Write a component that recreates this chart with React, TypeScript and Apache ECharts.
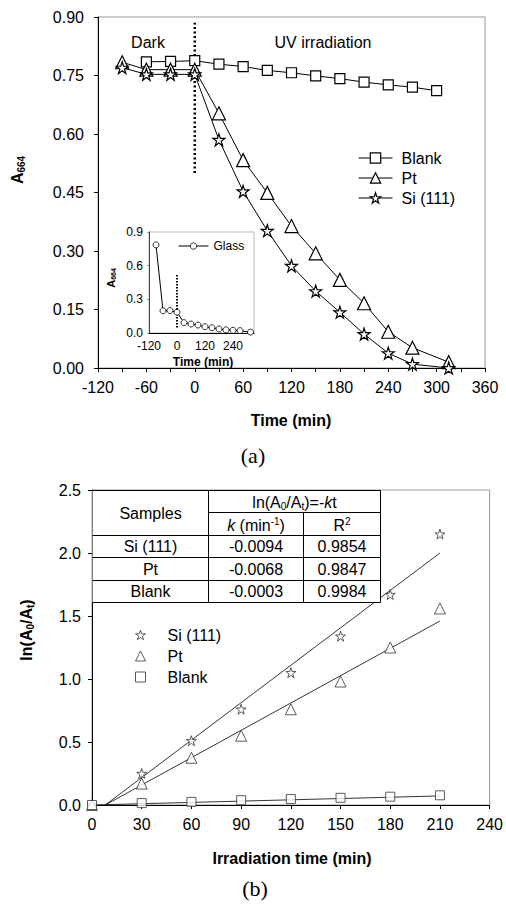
import React, { useEffect, useRef } from "react";
import * as echarts from "echarts";

// (a) absorbance at 664 nm versus time: dark adsorption, then UV irradiation
const blankTime = [-60, -30, 0, 30, 60, 90, 120, 150, 180, 210, 240, 270, 300];
const blankA = [0.785, 0.786, 0.788, 0.779, 0.773, 0.763, 0.757, 0.749, 0.742, 0.733, 0.726, 0.72, 0.711];
const ptTime = [-90, -60, -30, 0, 30, 60, 90, 120, 150, 180, 210, 240, 270, 315];
const ptA = [0.784, 0.765, 0.765, 0.765, 0.653, 0.533, 0.449, 0.364, 0.294, 0.226, 0.166, 0.093, 0.052, 0.015];
const siTime = [-90, -60, -30, 0, 30, 60, 90, 120, 150, 180, 210, 240, 270, 315];
const siA = [0.77, 0.753, 0.753, 0.753, 0.585, 0.453, 0.352, 0.262, 0.197, 0.143, 0.087, 0.038, 0.01, 0.0];

// inset: bare glass
const glassTime = [-90, -60, -30, 0, 30, 60, 90, 120, 150, 180, 210, 240, 270, 315];
const glassA = [0.785, 0.198, 0.2, 0.185, 0.092, 0.08, 0.071, 0.056, 0.047, 0.036, 0.028, 0.024, 0.021, 0.008];

// start of irradiation (dotted separator), in min, and its vertical span
const uvStart = 0;
const separatorSpan = [0.5, 0.885];
const insetSeparatorSpan = [0.05, 0.52];

// (b) first-order kinetics
const irrTime = [0, 30, 60, 90, 120, 150, 180, 210];
const siLn = [0, 0.25, 0.51, 0.76, 1.05, 1.34, 1.67, 2.15];
const ptLn = [0, 0.17, 0.375, 0.55, 0.76, 0.98, 1.25, 1.56];
const blankLn = [0, 0.015, 0.025, 0.038, 0.047, 0.057, 0.066, 0.077];

// fitted straight lines: [t, ln(A0/At)] end points
const siFit = [[8, 0], [210, 2.0]];
const ptFit = [[8, 0], [210, 1.46]];
const blankFit = [[0, 0], [210, 0.072]];

// kinetics table
const tableSamples = ["Si (111)", "Pt", "Blank"];
const tableK = ["-0.0094", "-0.0068", "-0.0003"];
const tableR2 = ["0.9854", "0.9847", "0.9984"];

const FONT = "Liberation Sans, Arial, sans-serif";
const SERIF = "Liberation Serif, Times New Roman, serif";
const STAR =
  "path://M50,0 L61.2,34.5 L97.6,34.5 L68.2,55.9 L79.4,90.5 L50,69.1 L20.6,90.5 L31.8,55.9 L2.4,34.5 L38.8,34.5 Z";

const zip = (xs: number[], ys: number[]) => xs.map((x, i) => [x, ys[i]]);

function text(x: number, y: number, t: string, extra: any = {}) {
  return {
    type: "text",
    x,
    y,
    silent: true,
    z: 50,
    style: {
      text: t,
      fill: "#000",
      font: `16px ${FONT}`,
      align: "center",
      verticalAlign: "middle",
      ...extra,
    },
  };
}

function hline(x1: number, x2: number, y: number) {
  return { type: "line", silent: true, z: 49, shape: { x1, y1: y, x2, y2: y }, style: { stroke: "#000", lineWidth: 1 } };
}
function vline(x: number, y1: number, y2: number) {
  return { type: "line", silent: true, z: 49, shape: { x1: x, y1, x2: x, y2 }, style: { stroke: "#000", lineWidth: 1 } };
}

function buildTable() {
  const L = 92.5, C1 = 208.5, C2 = 303.5, R = 380.5;
  const rows = [490.5, 512.5, 535.5, 557.5, 580.5, 602.5];
  const els: any[] = [
    { type: "rect", silent: true, z: 48, shape: { x: L, y: rows[0], width: R - L, height: rows[5] - rows[0] }, style: { fill: "#fff" } },
    hline(L, R, rows[0]),
    hline(C1, R, rows[1]),
    hline(L, R, rows[2]),
    hline(L, R, rows[3]),
    hline(L, R, rows[4]),
    hline(L, R, rows[5]),
    vline(C1, rows[0], rows[5]),
    vline(C2, rows[1], rows[5]),
    vline(R, rows[0], rows[5]),
  ];
  const cx1 = (L + C1) / 2, cx2 = (C1 + C2) / 2, cx3 = (C2 + R) / 2;
  els.push(text(cx1, (rows[0] + rows[2]) / 2, "Samples"));
  els.push(
    text((C1 + R) / 2, (rows[0] + rows[1]) / 2 + 1, "{n|ln(A}{s|0}{n|/A}{s|t}{n|)=-}{i|k}{n|t}", {
      rich: {
        n: { fontSize: 16, fontFamily: FONT, lineHeight: 18, verticalAlign: "middle" },
        i: { fontSize: 16, fontFamily: FONT, fontStyle: "italic", lineHeight: 18 },
        s: { fontSize: 10, fontFamily: FONT, lineHeight: 10, verticalAlign: "bottom" },
      },
    })
  );
  els.push(
    text(cx2, (rows[1] + rows[2]) / 2 + 1, "{i|k}{n| (min}{p|-1}{n|)}", {
      rich: {
        n: { fontSize: 16, fontFamily: FONT, lineHeight: 18 },
        i: { fontSize: 16, fontFamily: FONT, fontStyle: "italic", lineHeight: 18 },
        p: { fontSize: 10, fontFamily: FONT, lineHeight: 10, verticalAlign: "top" },
      },
    })
  );
  els.push(
    text(cx3, (rows[1] + rows[2]) / 2 + 1, "{n|R}{p|2}", {
      rich: {
        n: { fontSize: 16, fontFamily: FONT, lineHeight: 18 },
        p: { fontSize: 10, fontFamily: FONT, lineHeight: 10, verticalAlign: "top" },
      },
    })
  );
  tableSamples.forEach((s, i) => {
    const cy = (rows[i + 2] + rows[i + 3]) / 2;
    els.push(text(cx1, cy, s));
    els.push(text(cx2, cy, tableK[i]));
    els.push(text(cx3, cy, tableR2[i]));
  });
  return els;
}

const axisLine = { show: true, onZero: false, lineStyle: { color: "#000", width: 1 } };

export default function App() {
  const ref = useRef<HTMLDivElement>(null);

  useEffect(() => {
    if (!ref.current) return;
    const chart = echarts.init(ref.current, null, { renderer: "svg" });

    const markerStyle = { color: "#fff", borderColor: "#000", borderWidth: 1.2 };
    const markerStyleB = { color: "#fff", borderColor: "#333", borderWidth: 1 };
    const lineBlack = { color: "#000", width: 1 };

    const option: any = {
      animation: false,
      backgroundColor: "#fff",
      textStyle: { fontFamily: FONT },
      grid: [
        { left: 98, top: 17, width: 387, height: 351, show: true, borderColor: "#999", borderWidth: 1 },
        { left: 149, top: 232, width: 105, height: 101, show: true, borderColor: "#bbb", borderWidth: 1, backgroundColor: "#fff", z: 5 },
        { left: 92, top: 490, width: 398, height: 315, show: true, borderColor: "#999", borderWidth: 1 },
      ],
      xAxis: [
        {
          gridIndex: 0, type: "value", min: -120, max: 360, interval: 30,
          axisLine, splitLine: { show: false },
          axisTick: { show: true, length: 4, lineStyle: { color: "#000" } },
          axisLabel: { fontSize: 16, color: "#000", margin: 11, formatter: (v: number) => (v % 60 === 0 ? String(v) : "") },
        },
        {
          gridIndex: 1, type: "value", min: -120, max: 330, interval: 120, z: 6,
          axisLine, splitLine: { show: false },
          axisTick: { show: false },
          axisLabel: { fontSize: 12, color: "#000", margin: 7, formatter: (v: number) => (v % 120 === 0 ? String(v) : "") },
        },
        {
          gridIndex: 2, type: "value", min: 0, max: 240, interval: 30,
          axisLine, splitLine: { show: false },
          axisTick: { show: true, length: 4, lineStyle: { color: "#000" } },
          axisLabel: { fontSize: 16, color: "#000", margin: 11 },
        },
      ],
      yAxis: [
        {
          gridIndex: 0, type: "value", min: 0, max: 0.9, interval: 0.15,
          axisLine, splitLine: { show: false },
          axisTick: { show: true, length: 4, lineStyle: { color: "#000" } },
          axisLabel: { fontSize: 16, color: "#000", margin: 14, formatter: (v: number) => v.toFixed(2) },
        },
        {
          gridIndex: 1, type: "value", min: 0, max: 0.9, interval: 0.3, z: 6,
          axisLine: { show: true, onZero: false, lineStyle: { color: "#444", width: 1 } }, splitLine: { show: false },
          axisTick: { show: true, length: 2, lineStyle: { color: "#999" } },
          axisLabel: { fontSize: 12, color: "#000", margin: 6, formatter: (v: number) => v.toFixed(1) },
        },
        {
          gridIndex: 2, type: "value", min: 0, max: 2.5, interval: 0.5,
          axisLine, splitLine: { show: false },
          axisTick: { show: true, length: 4, lineStyle: { color: "#000" } },
          axisLabel: { fontSize: 16, color: "#000", margin: 11, formatter: (v: number) => v.toFixed(1) },
        },
      ],
      legend: [
        {
          data: ["Blank", "Pt", "Si (111)"], orient: "vertical", left: 353, top: 145,
          itemWidth: 34, itemHeight: 13, itemGap: 4, selectedMode: false,
          itemStyle: { color: "#fff", borderColor: "#000", borderWidth: 1.2 },
          lineStyle: { color: "#000", width: 1 },
          textStyle: { fontSize: 16, color: "#000", fontFamily: FONT, padding: [0, 0, 0, 4] },
        },
        {
          data: ["Glass"], orient: "vertical", left: 173, top: 235, z: 10,
          itemWidth: 30, itemHeight: 8, selectedMode: false,
          itemStyle: { color: "#fff", borderColor: "#000", borderWidth: 0.8 },
          lineStyle: { color: "#000", width: 1 },
          textStyle: { fontSize: 12, color: "#000", fontFamily: FONT },
        },
        {
          data: ["ln:Si (111)", "ln:Pt", "ln:Blank"], orient: "vertical", left: 130, top: 622,
          itemWidth: 10, itemHeight: 10, itemGap: 5, selectedMode: false,
          itemStyle: { color: "#fff", borderColor: "#333", borderWidth: 1 },
          formatter: (n: string) => n.slice(3),
          textStyle: { fontSize: 16, color: "#000", fontFamily: FONT, padding: [0, 0, 0, 17] },
        },
      ],
      series: [
        {
          type: "line", xAxisIndex: 0, yAxisIndex: 0, data: [[uvStart, separatorSpan[0]], [uvStart, separatorSpan[1]]],
          symbol: "none", silent: true, lineStyle: { color: "#000", width: 2.5, type: [2, 2.5] }, z: 2,
        },
        {
          name: "Blank", type: "line", xAxisIndex: 0, yAxisIndex: 0, data: zip(blankTime, blankA),
          symbol: "rect", symbolSize: 10, itemStyle: markerStyle, lineStyle: lineBlack, z: 3,
        },
        {
          name: "Pt", type: "line", xAxisIndex: 0, yAxisIndex: 0, data: zip(ptTime, ptA),
          symbol: "triangle", symbolSize: 13, itemStyle: markerStyle, lineStyle: lineBlack, z: 3,
        },
        {
          name: "Si (111)", type: "line", xAxisIndex: 0, yAxisIndex: 0, data: zip(siTime, siA),
          symbol: STAR, symbolSize: 12, itemStyle: markerStyle, lineStyle: lineBlack, z: 4,
        },
        {
          type: "line", xAxisIndex: 1, yAxisIndex: 1, data: [[uvStart, insetSeparatorSpan[0]], [uvStart, insetSeparatorSpan[1]]],
          symbol: "none", silent: true, lineStyle: { color: "#000", width: 2, type: [1.5, 1.5] }, z: 7,
        },
        {
          name: "Glass", type: "line", xAxisIndex: 1, yAxisIndex: 1, data: zip(glassTime, glassA),
          symbol: "circle", symbolSize: 6, itemStyle: { color: "#fff", borderColor: "#000", borderWidth: 0.8 },
          lineStyle: lineBlack, z: 8,
        },
        {
          type: "line", xAxisIndex: 2, yAxisIndex: 2, data: siFit, symbol: "none", silent: true,
          lineStyle: { color: "#000", width: 0.8 }, z: 2,
        },
        {
          type: "line", xAxisIndex: 2, yAxisIndex: 2, data: ptFit, symbol: "none", silent: true,
          lineStyle: { color: "#000", width: 0.8 }, z: 2,
        },
        {
          type: "line", xAxisIndex: 2, yAxisIndex: 2, data: blankFit, symbol: "none", silent: true,
          lineStyle: { color: "#000", width: 0.8 }, z: 2,
        },
        {
          name: "ln:Si (111)", type: "scatter", xAxisIndex: 2, yAxisIndex: 2, data: zip(irrTime, siLn),
          symbol: STAR, symbolSize: 10, itemStyle: markerStyleB, z: 3,
        },
        {
          name: "ln:Pt", type: "scatter", xAxisIndex: 2, yAxisIndex: 2, data: zip(irrTime, ptLn),
          symbol: "triangle", symbolSize: 11, itemStyle: markerStyleB, z: 3,
        },
        {
          name: "ln:Blank", type: "scatter", xAxisIndex: 2, yAxisIndex: 2, data: zip(irrTime, blankLn),
          symbol: "rect", symbolSize: 9, itemStyle: markerStyleB, z: 3,
        },
      ],
      graphic: [
        text(148, 42, "Dark"),
        text(323, 42, "UV irradiation"),
        {
          ...text(17, 170, "{a|A}{s|664}", {
            rich: {
              a: { fontSize: 16, fontWeight: "bold", fontFamily: FONT, lineHeight: 18 },
              s: { fontSize: 10, fontWeight: "bold", fontFamily: FONT, lineHeight: 10, verticalAlign: "bottom" },
            },
          }),
          rotation: Math.PI / 2,
        },
        text(291, 420, "Time (min)", { font: `bold 16px ${FONT}` }),
        text(253, 455, "(a)", { font: `22px ${SERIF}` }),
        {
          ...text(111, 278, "{a|A}{s|664}", {
            rich: {
              a: { fontSize: 11, fontWeight: "bold", fontFamily: FONT, lineHeight: 12 },
              s: { fontSize: 7, fontWeight: "bold", fontFamily: FONT, lineHeight: 7, verticalAlign: "bottom" },
            },
          }),
          rotation: Math.PI / 2,
        },
        text(203, 362, "Time (min)", { font: `bold 12px ${FONT}` }),
        {
          ...text(26, 630, "{a|ln(A}{s|0}{a|/A}{s|t}{a|)}", {
            rich: {
              a: { fontSize: 16, fontWeight: "bold", fontFamily: FONT, lineHeight: 18 },
              s: { fontSize: 10, fontWeight: "bold", fontFamily: FONT, lineHeight: 10, verticalAlign: "bottom" },
            },
          }),
          rotation: Math.PI / 2,
        },
        text(292, 858, "Irradiation time (min)", { font: `bold 16px ${FONT}` }),
        text(255, 888, "(b)", { font: `22px ${SERIF}` }),
        ...buildTable(),
      ],
    };

    chart.setOption(option);
    return () => chart.dispose();
  }, []);

  return (
    <div
      ref={ref}
      style={{ position: "absolute", left: 0, top: 0, width: 506, height: 911, background: "#fff" }}
    />
  );
}
